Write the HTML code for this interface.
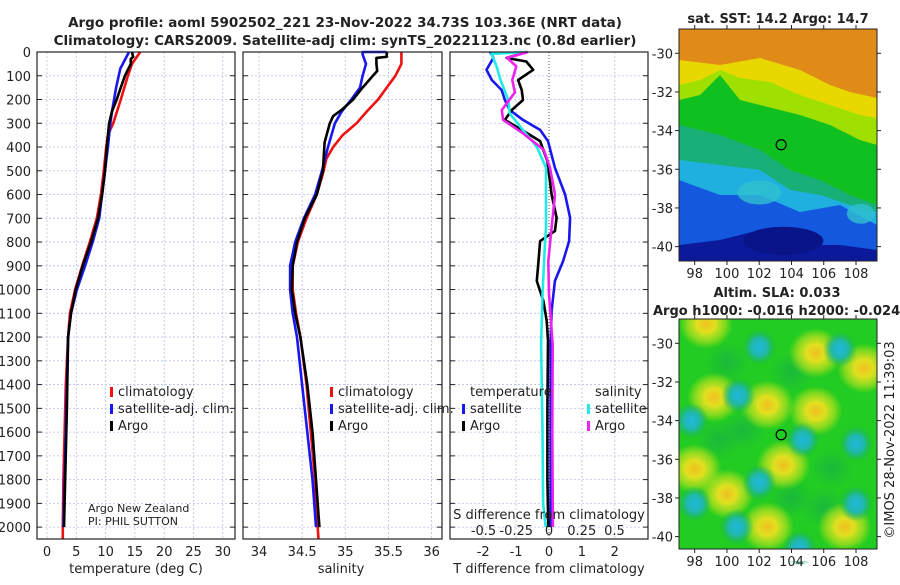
<!DOCTYPE html>
<html><head><meta charset="utf-8"><style>
html,body{margin:0;padding:0;background:#fff;}
svg text{font-family:"DejaVu Sans","Liberation Sans",sans-serif;fill:#222;}
</style></head><body>
<svg id="fig" width="900" height="580" viewBox="0 0 900 580" xmlns="http://www.w3.org/2000/svg">
<defs>
<radialGradient id="gy"><stop offset="0" stop-color="#f0c020"/><stop offset="0.35" stop-color="#e0e020"/><stop offset="0.7" stop-color="#b0e020" stop-opacity="0.7"/><stop offset="1" stop-color="#a0e010" stop-opacity="0"/></radialGradient>
<radialGradient id="gc"><stop offset="0" stop-color="#20b8e0"/><stop offset="0.5" stop-color="#20b8a8"/><stop offset="1" stop-color="#18b050" stop-opacity="0"/></radialGradient>
<radialGradient id="gd"><stop offset="0" stop-color="#18b048"/><stop offset="1" stop-color="#18b048" stop-opacity="0"/></radialGradient>
</defs>
<text x="345" y="27" text-anchor="middle" font-size="13.5" font-weight="bold">Argo profile: aoml 5902502_221 23-Nov-2022 34.73S 103.36E (NRT data)</text>
<text x="345" y="45" text-anchor="middle" font-size="13.5" font-weight="bold">Climatology: CARS2009. Satellite-adj clim: synTS_20221123.nc (0.8d earlier)</text>
<g id="panels"></g>
<g id="maps"></g>
</svg>
<script>
// ---- data ----
const depthTicks=[0,100,200,300,400,500,600,700,800,900,1000,1100,1200,1300,1400,1500,1600,1700,1800,1900,2000];
const tempTicks=[0,5,10,15,20,25,30];
const salTicks=[34,34.5,35,35.5,36];
const salTickLabels=["34","34.5","35","35.5","36"];
const tdiffTicks=[-2,-1,0,1,2];
const sdiffTicks=[-0.5,-0.25,0,0.25,0.5];
const sdiffTickLabels=["-0.5","-0.25","0","0.25","0.5"];

const climTDepth=[0,50,100,200,300,350,400,500,600,700,800,900,1000,1100,1200,1400,1600,1800,2000,2050];
const climTVal=[15.9,14.5,13.8,12.6,11.3,10.4,10.1,9.7,9.2,8.5,7.3,6.0,4.8,3.9,3.6,3.2,3.0,2.8,2.7,2.7];
const satTDepth=[0,70,150,250,300,400,500,600,700,800,900,1000,1100,1200,1500,2000];
const satTVal=[14.0,12.5,11.8,11.1,10.8,10.4,9.9,9.4,8.9,7.8,6.5,5.1,4.1,3.6,3.3,2.8];
const argoTDepth=[0,20,30,50,100,150,200,250,300,400,500,600,700,800,900,1000,1100,1200,1500,2000];
const argoTVal=[14.5,14.7,14.3,14.3,13.3,12.6,11.9,11.1,10.6,10.2,9.9,9.4,8.7,7.5,6.1,4.9,4.1,3.6,3.4,2.9];

const climSDepth=[0,50,100,150,200,250,300,350,400,450,500,600,700,800,900,1000,1100,1200,1400,1600,1800,2000,2050];
const climSVal=[35.65,35.65,35.58,35.48,35.38,35.25,35.13,34.97,34.86,34.78,34.75,34.67,34.55,34.45,34.39,34.39,34.43,34.48,34.55,34.6,34.65,34.68,34.69];
const satSDepth=[0,0,10,50,100,150,200,250,300,400,500,600,700,800,900,1000,1100,1200,1400,1600,1800,2000];
const satSVal=[35.48,35.2,35.2,35.24,35.2,35.17,35.07,34.96,34.88,34.8,34.73,34.65,34.52,34.42,34.36,34.36,34.39,34.44,34.5,34.56,34.62,34.66];
const argoSDepth=[0,20,25,50,80,100,150,200,240,270,300,380,500,600,700,800,900,1000,1100,1200,1400,1600,1800,2000];
const argoSVal=[35.48,35.48,35.36,35.36,35.37,35.32,35.2,35.09,34.97,34.86,34.82,34.76,34.74,34.67,34.53,34.44,34.39,34.38,34.42,34.48,34.56,34.62,34.66,34.70];

const satTdDepth=[0,25,75,118,160,202,244,286,328,375,487,600,698,796,880,964,1090,1230,1600,2000];
const satTdVal=[-1.79,-1.69,-1.9,-1.74,-1.44,-1.34,-1.19,-0.79,-0.27,-0.03,0.18,0.49,0.64,0.61,0.43,0.18,0.08,0.05,0.05,0.05];
const argoTdDepth=[0,25,40,75,118,160,202,244,286,328,375,460,600,698,754,796,880,964,1048,1132,1216,1500,1800,2000];
const argoTdVal=[-0.67,-1.29,-0.69,-0.48,-0.94,-0.83,-0.79,-1.13,-1.34,-0.83,-0.27,-0.05,0.08,0.23,0.18,-0.27,-0.32,-0.37,-0.17,-0.07,-0.03,-0.05,-0.05,-0.02];
const satSdDepth=[0,8,60,118,202,258,328,398,487,740,796,1020,1230,1600,1900,2000];
const satSdVal=[-0.17,-0.44,-0.4,-0.37,-0.31,-0.3,-0.2,-0.094,-0.023,-0.023,-0.03,-0.05,-0.06,-0.05,-0.045,-0.025];
const argoSdDepth=[0,25,60,118,170,244,286,342,412,487,600,740,880,1020,1230,1600,2000];
const argoSdVal=[-0.16,-0.32,-0.25,-0.28,-0.26,-0.36,-0.35,-0.2,-0.04,0.008,0.046,0.02,-0.005,0.0,0.028,0.025,0.03];

const sstLatTicks=[-30,-32,-34,-36,-38,-40];
const lonTicks=[98,100,102,104,106,108];
const floatLon=103.36, floatLat=-34.73;
const slaYellowLon=[105.5,108.5,105.5,102.5,103.5,98,102.5,98.7,100,99.2,107.3];
const slaYellowLat=[-30.5,-31.3,-33.5,-33.2,-36.3,-36.5,-39.5,-29,-37.8,-32.8,-39.5];
const slaCyanLon=[102,107,100.7,97.8,104.7,108,102,108,98,100.6,104.5];
const slaCyanLat=[-30.2,-30.3,-32.7,-34,-35,-35.2,-37.2,-38.3,-38.3,-39.5,-40.6];
const slaDarkLon=[100,104,106.5,99.5,106,101,104];
const slaDarkLat=[-31,-31.5,-36.5,-35,-38.5,-34.5,-38];

// ---- helpers ----
const NS="http://www.w3.org/2000/svg";
function mk(tag,attrs,parent){const e=document.createElementNS(NS,tag);for(const k in attrs)e.setAttribute(k,attrs[k]);parent.appendChild(e);return e;}
const Y0=52,YS=(539-52)/2050;
const yD=d=>Y0+d*YS;
const P1={l:37,r:235,x:t=>47+(t)*5.86};
const P2={l:243,r:442,x:s=>259+(s-34)*86.3};
const P3={l:450,r:648,x:t=>549+t*32.9,xs:s=>549+s*131};
const panels=document.getElementById('panels');

function grid(P,vals,xf,name){
  const g=mk('g',{},panels);
  
  
  depthTicks.forEach(d=>{if(d>0)mk('line',{x1:P.l,x2:P.r,y1:yD(d),y2:yD(d),stroke:'#b8c0e8','stroke-width':0.8,'stroke-dasharray':'2,2'},g);});
  vals.forEach(v=>{const x=xf(v);mk('line',{x1:x,x2:x,y1:Y0,y2:539,stroke:'#b8c0e8','stroke-width':0.8,'stroke-dasharray':'2,2'},g);});
}
function frame(P,name){
  const r=mk('rect',{x:P.l,y:Y0,width:P.r-P.l,height:539-Y0,fill:'none',stroke:'#222','stroke-width':1.2},panels);
  
  
  depthTicks.forEach(d=>{mk('line',{x1:P.l,x2:P.l+5,y1:yD(d),y2:yD(d),stroke:'#222'},panels);mk('line',{x1:P.r-5,x2:P.r,y1:yD(d),y2:yD(d),stroke:'#222'},panels);});
}
function line(P,xf,ds,vs,color,name,w){
  const pts=ds.map((d,i)=>xf(vs[i]).toFixed(1)+','+yD(d).toFixed(1)).join(' ');
  const e=mk('polyline',{points:pts,fill:'none',stroke:color,'stroke-width':w||2.6,'stroke-linejoin':'round'},panels);
  
  
}
function xlabels(vals,labels,xf,y,name){
  vals.forEach((v,i)=>{const t=mk('text',{x:xf(v),y:y,'text-anchor':'middle','font-size':13},panels);t.textContent=labels?labels[i]:String(v);
  
  });
}
function txt(x,y,s,size,name,anchor,extra){
  const t=mk('text',Object.assign({x:x,y:y,'font-size':size,'text-anchor':anchor||'start'},extra||{}),panels);t.textContent=s;
  
  
  return t;
}
function legMark(x,y,color){mk('rect',{x:x,y:y-10,width:3,height:10,fill:color},panels);}

// panel 1
grid(P1,tempTicks,P1.x,'temperature-panel');
line(P1,P1.x,climTDepth,climTVal,'#ee1111','temperature-climatology-line');
line(P1,P1.x,satTDepth,satTVal,'#1818ee','temperature-satellite-line');
line(P1,P1.x,argoTDepth,argoTVal,'#000','temperature-argo-line');
frame(P1,'temperature-panel');
depthTicks.forEach(d=>{const t=mk('text',{x:31,y:yD(d)+5,'text-anchor':'end','font-size':13},panels);t.textContent=d;
  
  });
xlabels(tempTicks,null,P1.x,556,'temperature-axis');
txt(136,573,'temperature (deg C)',13,'temperature-axis-title','middle');
legMark(110,397,'#ee1111');txt(118,396,'climatology',13,'legend-climatology');
legMark(110,414,'#1818ee');txt(118,413,'satellite-adj. clim.',13,'legend-satellite-adj');
legMark(110,431,'#000');txt(118,430,'Argo',13,'legend-argo');
txt(88,512,'Argo New Zealand',11,'float-owner-label');
txt(88,525,'PI: PHIL SUTTON',11,'float-pi-label');

// panel 2
grid(P2,salTicks,P2.x,'salinity-panel');
line(P2,P2.x,climSDepth,climSVal,'#ee1111','salinity-climatology-line');
line(P2,P2.x,satSDepth,satSVal,'#1818ee','salinity-satellite-line');
line(P2,P2.x,argoSDepth,argoSVal,'#000','salinity-argo-line');
frame(P2,'salinity-panel');
xlabels(salTicks,salTickLabels,P2.x,556,'salinity-axis');
txt(341,573,'salinity',13,'salinity-axis-title','middle');
legMark(330,397,'#ee1111');txt(338,396,'climatology',13,'legend-climatology-2');
legMark(330,414,'#1818ee');txt(338,413,'satellite-adj. clim.',13,'legend-satellite-adj-2');
legMark(330,431,'#000');txt(338,430,'Argo',13,'legend-argo-2');

// panel 3
grid(P3,tdiffTicks.filter(v=>v!==0),P3.x,'difference-panel');
mk('line',{x1:P3.x(0),x2:P3.x(0),y1:Y0,y2:539,stroke:'#555','stroke-width':1,'stroke-dasharray':'1,2'},panels);
line(P3,P3.x,satTdDepth,satTdVal,'#1818ee','tdiff-satellite-line');
line(P3,P3.x,argoTdDepth,argoTdVal,'#000','tdiff-argo-line');
line(P3,P3.xs,satSdDepth,satSdVal,'#22e8e8','sdiff-satellite-line');
line(P3,P3.xs,argoSdDepth,argoSdVal,'#ee22ee','sdiff-argo-line');
frame(P3,'difference-panel');
xlabels(tdiffTicks,null,P3.x,556,'tdiff-axis');
txt(549,573,'T difference from climatology',13,'tdiff-axis-title','middle');
txt(549,519,'S difference from climatology',13,'sdiff-axis-title','middle');
xlabels(sdiffTicks,sdiffTickLabels,P3.xs,535,'sdiff-axis');
txt(470,396,'temperature',13,'legend-temperature-header');
txt(595,396,'salinity',13,'legend-salinity-header');
legMark(462,414,'#1818ee');txt(470,413,'satellite',13,'legend-tdiff-satellite');
legMark(462,431,'#000');txt(470,430,'Argo',13,'legend-tdiff-argo');
legMark(587,414,'#22e8e8');txt(595,413,'satellite',13,'legend-sdiff-satellite');
legMark(587,431,'#ee22ee');txt(595,430,'Argo',13,'legend-sdiff-argo');

// ---- maps ----
const maps=document.getElementById('maps');
const MX=lon=>694.7+(lon-98)*16.13;
function map(top,bot,latTop,name){
  const MY=lat=>latTop+(-30-lat)*19.33;
  const g=mk('g',{},maps);
  
  
  return {g,MY,top,bot};
}
// SST map
const m1=map(29,261,53.3,'sst-map');
mk('rect',{x:679,y:29,width:198,height:232,fill:'#0a1a9a'},m1.g);
const layers=[
 ['#1558e0',[[679,245],[720,240],[760,230],[800,245],[840,245],[877,250]]],
 ['#20b0e0',[[679,180],[720,195],[760,195],[800,212],[840,205],[877,225]]],
 ['#18b078',[[679,160],[720,165],[760,170],[790,190],[820,195],[850,205],[877,212]]],
 ['#10c020',[[679,125],[720,135],[760,150],[790,170],[820,180],[850,195],[877,205]]],
 ['#a0e000',[[679,100],[700,95],[720,75],[740,100],[760,105],[800,115],[830,125],[860,140],[877,145]]],
 ['#e8d800',[[679,85],[700,80],[720,70],[740,78],[770,82],[800,95],[830,105],[860,115],[877,118]]],
 ['#e08a18',[[679,60],[720,65],[760,58],[800,70],[830,85],[850,92],[877,98]]]
];
layers.forEach((L,i)=>{const pts=[[679,29]].concat(L[1]).concat([[877,29]]).map(p=>p.join(',')).join(' ');
  const e=mk('polygon',{points:pts,fill:L[0]},m1.g);
  
  });
mk('ellipse',{cx:MX(102),cy:m1.MY(-37.2),rx:22,ry:12,fill:'#30c0d0',opacity:0.8},m1.g);
mk('ellipse',{cx:MX(108.3),cy:m1.MY(-38.3),rx:14,ry:10,fill:'#30c0d0',opacity:0.8},m1.g);
mk('ellipse',{cx:MX(103.5),cy:m1.MY(-39.7),rx:40,ry:14,fill:'#081488'},m1.g);

// SLA map
const m2=map(319,549,343.3,'sla-map');
mk('rect',{x:679,y:319,width:198,height:230,fill:'#22cc22'},m2.g);
const cl=mk('g',{},m2.g);
slaDarkLon.forEach((lon,i)=>{const e=mk('ellipse',{cx:MX(lon),cy:m2.MY(slaDarkLat[i]),rx:22,ry:20,fill:'url(#gd)',opacity:0.7},cl);
  
  });
slaYellowLon.forEach((lon,i)=>{const e=mk('ellipse',{cx:MX(lon),cy:m2.MY(slaYellowLat[i]),rx:27,ry:25,fill:'url(#gy)'},cl);
  
  });
slaCyanLon.forEach((lon,i)=>{const e=mk('ellipse',{cx:MX(lon),cy:m2.MY(slaCyanLat[i]),rx:17,ry:18,fill:'url(#gc)'},cl);
  
  });
mk('rect',{x:650,y:300,width:29,height:260,fill:'#fff'},m2.g);
mk('rect',{x:877,y:300,width:23,height:260,fill:'#fff'},m2.g);
mk('rect',{x:679,y:549,width:200,height:12,fill:'#fff'},m2.g);
mk('rect',{x:679,y:300,width:200,height:19,fill:'#fff'},m2.g);

[m1,m2].forEach((m,k)=>{
  const fr=mk('rect',{x:679,y:m.top,width:198,height:m.bot-m.top,fill:'none',stroke:'#222','stroke-width':1},maps);
  
  
  const c=mk('circle',{cx:MX(floatLon),cy:m.MY(floatLat),r:5,fill:'none',stroke:'#000','stroke-width':1.2},maps);
  
  
  sstLatTicks.forEach(lat=>{const y=m.MY(lat);
    mk('line',{x1:675,x2:679,y1:y,y2:y,stroke:'#222'},maps);
    mk('line',{x1:877,x2:881,y1:y,y2:y,stroke:'#222'},maps);
    const t=mk('text',{x:673,y:y+5,'text-anchor':'end','font-size':13},maps);t.textContent=lat;
    
    });
  lonTicks.forEach(lon=>{const x=MX(lon);
    mk('line',{x1:x,x2:x,y1:m.bot,y2:m.bot+4,stroke:'#222'},maps);
    mk('line',{x1:x,x2:x,y1:m.top-4,y2:m.top,stroke:'#222'},maps);
    const t=mk('text',{x:x,y:m.bot+17,'text-anchor':'middle','font-size':13},maps);t.textContent=lon;
    
    });
});
function mt(x,y,s,name,anchor){const t=mk('text',{x:x,y:y,'font-size':13,'font-weight':'bold','text-anchor':anchor},maps);t.textContent=s;
  
  }
mt(778,23,'sat. SST: 14.2 Argo: 14.7','sst-map-title','middle');
mt(777,297,'Altim. SLA: 0.033','sla-map-title','middle');
mt(653,315,'Argo h1000: -0.016 h2000: -0.024','sla-map-subtitle','start');
const cr=mk('text',{x:0,y:0,'font-size':13,'text-anchor':'middle',transform:'translate(894,440) rotate(-90)'},maps);
cr.textContent='©IMOS 28-Nov-2022 11:39:03';


</script>
</body></html>
